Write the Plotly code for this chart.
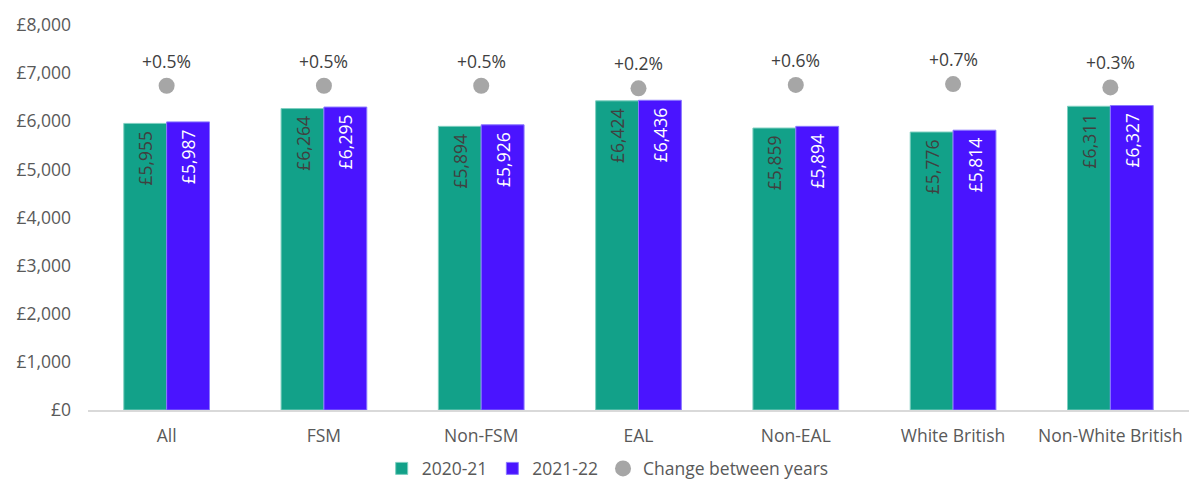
import plotly.graph_objects as go

# Per-pupil funding by pupil group, two financial years
categories = ["All", "FSM", "Non-FSM", "EAL", "Non-EAL", "White British", "Non-White British"]
values_2020_21 = [5955, 6264, 5894, 6424, 5859, 5776, 6311]
values_2021_22 = [5987, 6295, 5926, 6436, 5894, 5814, 6327]
change_pct = [0.5, 0.5, 0.5, 0.2, 0.6, 0.7, 0.3]
change_labels = ["+0.5%", "+0.5%", "+0.5%", "+0.2%", "+0.6%", "+0.7%", "+0.3%"]

GREEN = "#12A189"
PURPLE = "#4A14FF"
GREY = "#A6A6A6"
TEXT = "#595959"
FONT = "Open Sans"
FS = 17.5

fig = go.Figure()

fig.add_trace(go.Bar(
    name="2020-21", x=categories, y=values_2020_21,
    marker=dict(color=GREEN, line=dict(color="#7fcfc0", width=1)),
    texttemplate="£%{y:,}\u00a0", textposition="inside", insidetextanchor="end",
    textangle=-90, constraintext="none",
    textfont=dict(color="#404040", size=FS, family=FONT),
))
fig.add_trace(go.Bar(
    name="2021-22", x=categories, y=values_2021_22,
    marker=dict(color=PURPLE, line=dict(color="#8a78ff", width=1)),
    texttemplate="£%{y:,}\u00a0", textposition="inside", insidetextanchor="end",
    textangle=-90, constraintext="none",
    textfont=dict(color="white", size=FS, family=FONT),
))
fig.add_trace(go.Scatter(
    name="Change between years", x=categories, y=change_pct, yaxis="y2",
    mode="markers", marker=dict(color=GREY, size=16),
))

# Percentage labels above the change markers
for cat, pct, lab in zip(categories, change_pct, change_labels):
    fig.add_annotation(x=cat, y=pct, xref="x", yref="y2", text=lab,
                       showarrow=False, yshift=25,
                       font=dict(size=FS, color="#404040", family=FONT))

fig.update_layout(
    width=1189, height=481,
    margin=dict(l=88, r=0, t=25, b=71, autoexpand=False),
    paper_bgcolor="white", plot_bgcolor="white",
    font=dict(family=FONT, size=FS, color=TEXT),
    barmode="group", bargap=0.455, bargroupgap=0,
    showlegend=True,
    legend=dict(orientation="h", x=0.472, xanchor="center", y=-0.152, yanchor="middle",
                font=dict(size=FS, color=TEXT, family=FONT), itemwidth=30,
                traceorder="normal"),
    xaxis=dict(showline=True, linecolor="#D9D9D9", linewidth=1.5, showgrid=False,
               ticks="", ticklabelstandoff=9, tickfont=dict(size=FS, color=TEXT)),
    yaxis=dict(range=[0, 8000], dtick=1000, tickprefix="£", tickformat=",",
               showgrid=False, zeroline=False, showline=False,
               ticklabelstandoff=16, tickfont=dict(size=FS, color=TEXT)),
    yaxis2=dict(overlaying="y", range=[-37.65, 7.647], visible=False, showgrid=False),
)

fig.write_html("out.html")
